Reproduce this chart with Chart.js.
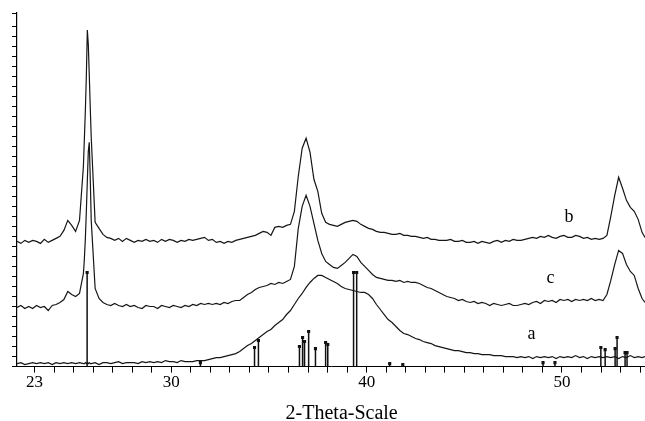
<!DOCTYPE html>
<html>
<head>
<meta charset="utf-8">
<script src="https://cdn.jsdelivr.net/npm/chart.js@4.4.0/dist/chart.umd.min.js"></script>
<style>
  html, body { margin: 0; padding: 0; background: #fff; }
</style>
</head>
<body>
<canvas id="xrdChart" width="645" height="421"></canvas>
<script>
// 2-theta sampling points (degrees), finer around the sharp 25.7 reflection
const twoTheta = [
  22.1, 22.3, 22.5, 22.7, 22.9,
  23.1, 23.3, 23.5, 23.7, 23.9,
  24.1, 24.3, 24.5, 24.7, 24.9,
  25.1, 25.3, 25.5, 25.55, 25.6, 25.65, 25.7, 25.75, 25.8, 25.85, 25.9,
  26.1, 26.3, 26.5, 26.7, 26.9,
  27.1, 27.3, 27.5, 27.7, 27.9,
  28.1, 28.3, 28.5, 28.7, 28.9,
  29.1, 29.3, 29.5, 29.7, 29.9,
  30.1, 30.3, 30.5, 30.7, 30.9,
  31.1, 31.3, 31.5, 31.7, 31.9,
  32.1, 32.3, 32.5, 32.7, 32.9,
  33.1, 33.3, 33.5, 33.7, 33.9,
  34.1, 34.3, 34.5, 34.7, 34.9,
  35.1, 35.3, 35.5, 35.7, 35.9,
  36.1, 36.3, 36.5, 36.7, 36.9,
  37.1, 37.3, 37.5, 37.7, 37.9,
  38.1, 38.3, 38.5, 38.7, 38.9,
  39.1, 39.3, 39.5, 39.7, 39.9,
  40.1, 40.3, 40.5, 40.7, 40.9,
  41.1, 41.3, 41.5, 41.7, 41.9,
  42.1, 42.3, 42.5, 42.7, 42.9,
  43.1, 43.3, 43.5, 43.7, 43.9,
  44.1, 44.3, 44.5, 44.7, 44.9,
  45.1, 45.3, 45.5, 45.7, 45.9,
  46.1, 46.3, 46.5, 46.7, 46.9,
  47.1, 47.3, 47.5, 47.7, 47.9,
  48.1, 48.3, 48.5, 48.7, 48.9,
  49.1, 49.3, 49.5, 49.7, 49.9,
  50.1, 50.3, 50.5, 50.7, 50.9,
  51.1, 51.3, 51.5, 51.7, 51.9,
  52.1, 52.3, 52.5, 52.7, 52.9,
  53.1, 53.3, 53.5, 53.7, 53.9,
  54.1, 54.25
];

// pattern a (bottom trace)
const seriesA = [
  3, 4, 2, 3, 4,
  3, 4, 3, 4, 2,
  4, 3, 4, 3, 4,
  3, 4, 3, 3, 4, 3, 4, 3, 4, 3, 3,
  4, 2, 4, 4, 3,
  4, 5, 3, 4, 4,
  4, 3, 5, 4, 5,
  4, 5, 4, 6, 5,
  5, 4, 6, 5, 5,
  5, 6, 6, 6, 7,
  8, 9, 9, 10, 11,
  12, 13, 15, 18, 21,
  23, 26, 29, 32, 35,
  37, 41, 44, 47, 52,
  56, 62, 68, 73, 79,
  84, 88, 91, 91, 89,
  87, 85, 83, 80, 78,
  77, 76, 75, 74, 74,
  72, 68, 62, 57, 52,
  47, 44, 40, 36, 33,
  32, 30, 28, 27, 25,
  24, 23, 21, 20, 19,
  18, 17, 16, 16, 15,
  14, 14, 13, 13, 12,
  12, 12, 11, 11, 11,
  10, 10, 10, 9, 10,
  9, 10, 8, 10, 9,
  10, 9, 10, 8, 10,
  9, 10, 9, 11, 9,
  10, 8, 10, 9, 10,
  9, 10, 9, 10, 8,
  10, 9, 11, 9, 10,
  9, 10
];

// pattern b (top trace)
const seriesB = [
  125, 123, 126, 124, 126,
  125, 123, 127, 124, 126,
  128, 130, 136, 146, 141,
  135, 146, 200, 228, 256, 290, 336, 322, 291, 259, 229,
  144, 138, 132, 129, 128,
  126, 128, 125, 128, 126,
  124, 126, 125, 127, 125,
  126, 124, 127, 125, 127,
  126, 124, 126, 125, 127,
  126, 127, 128, 129, 126,
  127, 124, 125, 123, 125,
  124, 126, 127, 128, 129,
  130, 131, 133, 135, 134,
  131, 139, 140, 139, 141,
  142, 155, 190, 218, 228,
  214, 187, 175, 153, 144,
  142, 141, 140, 142, 144,
  145, 146, 145, 142, 140,
  138, 137, 135, 134, 134,
  133, 132, 132, 133, 131,
  131, 130, 130, 129, 128,
  129, 127, 127, 126, 126,
  126, 127, 125, 125, 126,
  124, 124, 125, 123, 125,
  124, 123, 125, 126, 124,
  126, 125, 127, 126, 126,
  127, 128, 129, 128, 130,
  129, 131, 129, 128, 130,
  131, 129, 129, 131, 130,
  128, 129, 127, 128, 127,
  128, 131, 150, 171, 189,
  178, 166, 159, 155, 147,
  134, 129
];

// pattern c (middle trace)
const seriesC = [
  59, 61, 58, 60, 58,
  61, 59, 60, 56, 61,
  62, 64, 67, 75, 72,
  70, 73, 93, 108, 128, 155, 185, 215, 224, 188, 146,
  78, 68, 64, 62, 61,
  63, 61, 60, 62, 60,
  61, 59, 58, 61, 60,
  60, 58, 61, 60, 59,
  61, 60, 59, 61, 60,
  62, 61, 63, 62, 63,
  62, 63, 62, 64, 63,
  65, 66, 66, 69, 72,
  74, 77, 79, 80, 81,
  83, 82, 84, 83, 85,
  87, 100, 138, 160, 171,
  160, 143, 126, 113, 105,
  102, 99, 98, 101, 104,
  108, 112, 110, 104, 100,
  96, 92, 89, 88, 87,
  86, 86, 85, 86, 84,
  85, 84, 84, 83, 81,
  79, 78, 76, 74, 72,
  70, 69, 68, 66, 67,
  65, 64, 65, 63, 64,
  63, 61, 63, 62, 61,
  62, 63, 61, 61, 62,
  63, 62, 64, 65, 63,
  66, 65, 66, 64, 67,
  66, 67, 65, 67, 66,
  67, 66, 68, 66, 67,
  66, 72, 86, 102, 116,
  113, 102, 95, 91, 78,
  68, 64
];

// reference pattern sticks
const stickPos = [25.69, 31.49, 34.26, 34.46, 36.56, 36.72, 36.82, 37.03, 37.38, 37.90, 38.01,
                  39.33, 39.49, 41.18, 41.85, 49.03, 49.64, 51.99, 52.21, 52.72, 52.82, 53.23, 53.33];
const stickHeight = [94, 4, 19, 26, 20, 29, 25, 35, 18, 24, 22,
                     94, 94, 3, 2, 4, 4, 19, 17, 18, 29, 14, 14];

// axis labels
const firstTick = 23;
const lastTick = 54;
const labelledTicks = [23, 30, 40, 50];
const axisTitle = '2-Theta-Scale';
const curveNames = ['a', 'b', 'c'];
const curveLabelX = [48.44, 50.36, 49.41];
const curveLabelY = [28, 144, 83];

const toPoints = values => twoTheta.map((t, i) => ({x: t, y: values[i]}));

const stickPoints = [];
stickPos.forEach((p, i) => {
    stickPoints.push({x: p, y: 0});
    stickPoints.push({x: p, y: stickHeight[i]});
    stickPoints.push({x: p, y: null});
});

const lineColor = '#161616';

const textPlugin = {
    id: 'xrdText',
    afterDraw(chart) {
        const {ctx} = chart;
        const x = chart.scales.x;
        const y = chart.scales.y;
        ctx.save();
        ctx.fillStyle = '#000';
        ctx.textAlign = 'center';
        ctx.textBaseline = 'alphabetic';
        ctx.font = '18px "Liberation Serif", serif';
        curveNames.forEach((name, i) => {
            ctx.fillText(name, x.getPixelForValue(curveLabelX[i]), y.getPixelForValue(curveLabelY[i]));
        });
        ctx.font = '20px "Liberation Serif", serif';
        ctx.fillText(axisTitle, x.getPixelForValue(38.72), chart.height - 2);
        ctx.restore();
    }
};

new Chart(document.getElementById('xrdChart').getContext('2d'), {
    type: 'line',
    data: {
        datasets: [
            {
                label: 'ref',
                data: stickPoints,
                borderColor: '#111',
                backgroundColor: '#111',
                borderWidth: 1.5,
                spanGaps: false,
                pointStyle: 'rect',
                pointRadius: ctx => (ctx.raw && ctx.raw.y > 0) ? 2.2 : 0,
                pointBorderWidth: 0
            },
            {label: 'a', data: toPoints(seriesA), borderColor: lineColor, borderWidth: 1.2, pointRadius: 0, tension: 0},
            {label: 'b', data: toPoints(seriesB), borderColor: lineColor, borderWidth: 1.2, pointRadius: 0, tension: 0},
            {label: 'c', data: toPoints(seriesC), borderColor: lineColor, borderWidth: 1.2, pointRadius: 0, tension: 0}
        ]
    },
    options: {
        responsive: false,
        animation: false,
        devicePixelRatio: 1,
        layout: {padding: {left: 12, top: 13, right: 0, bottom: 28}},
        scales: {
            x: {
                type: 'linear',
                min: 22.1,
                max: 54.25,
                afterBuildTicks: scale => {
                    // one tick per degree; the default generator drops 23 next to the axis minimum
                    const ticks = [];
                    for (let v = firstTick; v <= lastTick; v++) ticks.push({value: v});
                    scale.ticks = ticks;
                },
                ticks: {
                    autoSkip: false,
                    maxRotation: 0,
                    padding: 0,
                    color: '#000',
                    font: {family: '"Liberation Serif", serif', size: 17},
                    callback: v => labelledTicks.includes(v) ? String(v) : ''
                },
                grid: {drawOnChartArea: false, tickLength: 6, color: '#000'},
                border: {color: '#000', width: 1}
            },
            y: {
                type: 'linear',
                min: 0,
                max: 353,
                ticks: {display: false, stepSize: 10, maxTicksLimit: 100},
                grid: {drawOnChartArea: false, tickLength: 5, color: '#000'},
                border: {color: '#000', width: 1.2}
            }
        },
        plugins: {
            legend: {display: false},
            tooltip: {enabled: false}
        }
    },
    plugins: [textPlugin]
});
</script>
</body>
</html>
